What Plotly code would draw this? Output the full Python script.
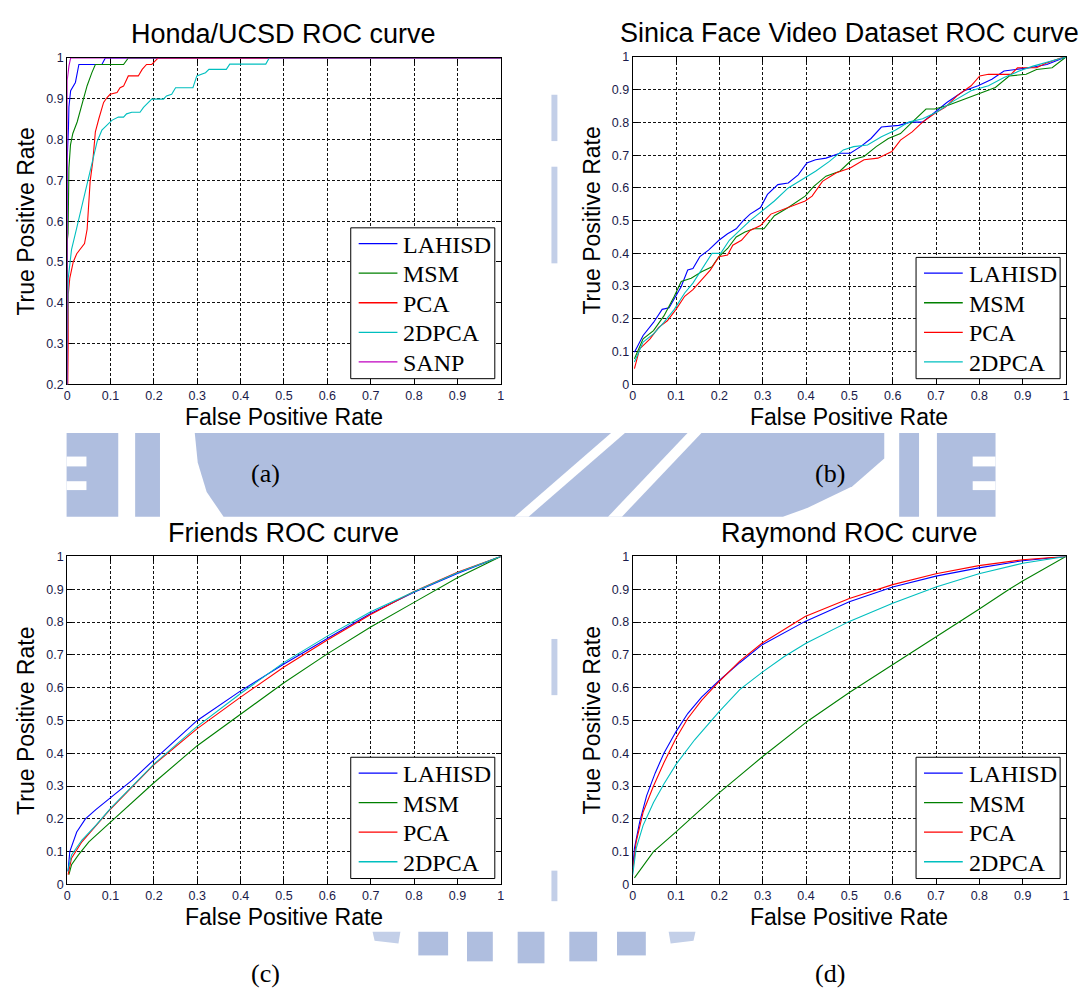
import plotly.graph_objects as go

W, H = 1083, 992

# ---------------- data ----------------
series_names = ["LAHISD", "MSM", "PCA", "2DPCA", "SANP"]
panel_titles = ["Honda/UCSD ROC curve", "Sinica Face Video Dataset ROC curve",
                "Friends ROC curve", "Raymond ROC curve"]
panel_labels = ["(a)", "(b)", "(c)", "(d)"]
x_title = "False Positive Rate"
y_title = "True Positive Rate"
tick_vals = [0, 0.1, 0.2, 0.3, 0.4, 0.5, 0.6, 0.7, 0.8, 0.9, 1]

# (a) Honda/UCSD
h_lahisd_x = [0, 0, 0.003, 0.004, 0.008, 0.013, 0.019, 0.027, 0.080, 0.088, 1.0]
h_lahisd_y = [0, 0.75, 0.83, 0.88, 0.92, 0.93, 0.94, 0.984, 0.984, 1.0, 1.0]
h_msm_x = [0, 0, 0.002, 0.0023, 0.004, 0.0076, 0.013, 0.023, 0.034, 0.046, 0.057, 0.065, 0.130, 0.141, 1.0]
h_msm_y = [0, 0.55, 0.57, 0.674, 0.73, 0.787, 0.815, 0.843, 0.883, 0.932, 0.964, 0.984, 0.984, 1.0, 1.0]
h_pca_x = [0, 0, 0.0015, 0.0024, 0.0025, 0.006, 0.014, 0.022, 0.034, 0.040, 0.046, 0.053, 0.059, 0.065,
           0.073, 0.084, 0.092, 0.099, 0.115, 0.122, 0.130, 0.141, 0.164, 0.173, 0.183, 0.195, 0.210, 1.0]
h_pca_y = [0, 0.2, 0.22, 0.31, 0.42, 0.46, 0.50, 0.52, 0.535, 0.545, 0.58, 0.698, 0.746, 0.819,
           0.851, 0.891, 0.903, 0.911, 0.915, 0.927, 0.931, 0.956, 0.956, 0.972, 0.984, 0.984, 1.0, 1.0]
h_2dpca_x = [0, 0, 0.0024, 0.010, 0.019, 0.030, 0.042, 0.057, 0.069, 0.080, 0.092, 0.103, 0.118, 0.130,
             0.137, 0.149, 0.168, 0.176, 0.195, 0.222, 0.229, 0.241, 0.250, 0.290, 0.299, 0.319, 0.327,
             0.367, 0.375, 0.458, 0.466, 1.0]
h_2dpca_y = [0, 0.24, 0.46, 0.53, 0.57, 0.62, 0.674, 0.738, 0.795, 0.823, 0.835, 0.847, 0.855, 0.855,
             0.863, 0.867, 0.867, 0.879, 0.899, 0.899, 0.907, 0.911, 0.927, 0.927, 0.956, 0.964, 0.972,
             0.972, 0.985, 0.985, 1.0, 1.0]
h_sanp_x = [0, 0, 0.004, 0.008, 1.0]
h_sanp_y = [0, 0.945, 0.98, 1.0, 1.0]

# (b) Sinica Face Video Dataset
s_lahisd_x = [0.004, 0.024, 0.048, 0.068, 0.084, 0.100, 0.112, 0.127, 0.139, 0.155, 0.175, 0.199, 0.219,
              0.239, 0.255, 0.271, 0.295, 0.311, 0.335, 0.359, 0.382, 0.402, 0.422, 0.446, 0.478, 0.502,
              0.526, 0.550, 0.574, 0.614, 0.641, 0.669, 0.693, 0.725, 0.765, 0.797, 0.829, 0.857, 0.884,
              0.916, 0.956, 1.0]
s_lahisd_y = [0.098, 0.149, 0.189, 0.229, 0.234, 0.269, 0.299, 0.349, 0.354, 0.390, 0.410, 0.440, 0.460,
              0.475, 0.500, 0.520, 0.540, 0.580, 0.610, 0.615, 0.640, 0.676, 0.686, 0.691, 0.706, 0.706,
              0.726, 0.751, 0.786, 0.791, 0.801, 0.801, 0.826, 0.861, 0.897, 0.912, 0.932, 0.957, 0.962,
              0.967, 0.977, 1.0]
s_msm_x = [0.004, 0.024, 0.048, 0.072, 0.096, 0.112, 0.135, 0.159, 0.183, 0.199, 0.219, 0.239, 0.259,
           0.279, 0.303, 0.327, 0.359, 0.398, 0.418, 0.446, 0.478, 0.506, 0.534, 0.562, 0.590, 0.618,
           0.645, 0.677, 0.697, 0.725, 0.765, 0.805, 0.837, 0.869, 0.908, 0.932, 0.968, 1.0]
s_msm_y = [0.078, 0.139, 0.164, 0.209, 0.269, 0.314, 0.324, 0.344, 0.359, 0.390, 0.415, 0.450, 0.465,
           0.475, 0.475, 0.515, 0.540, 0.575, 0.605, 0.636, 0.651, 0.686, 0.696, 0.726, 0.751, 0.766,
           0.801, 0.841, 0.841, 0.851, 0.871, 0.892, 0.907, 0.942, 0.947, 0.962, 0.967, 1.0]
s_pca_x = [0.004, 0.016, 0.040, 0.060, 0.080, 0.100, 0.120, 0.139, 0.159, 0.179, 0.199, 0.219, 0.231,
           0.251, 0.271, 0.295, 0.319, 0.359, 0.398, 0.414, 0.438, 0.470, 0.502, 0.534, 0.566, 0.598,
           0.618, 0.645, 0.669, 0.701, 0.721, 0.749, 0.781, 0.801, 0.821, 0.873, 0.888, 0.932, 0.956,
           0.988, 1.0]
s_pca_y = [0.048, 0.108, 0.139, 0.174, 0.194, 0.229, 0.269, 0.289, 0.319, 0.349, 0.390, 0.395, 0.425,
           0.440, 0.470, 0.485, 0.520, 0.540, 0.560, 0.575, 0.620, 0.646, 0.661, 0.686, 0.691, 0.711,
           0.746, 0.771, 0.801, 0.831, 0.846, 0.882, 0.912, 0.942, 0.947, 0.947, 0.967, 0.967, 0.982,
           0.997, 1.0]
s_2dpca_x = [0.004, 0.024, 0.048, 0.072, 0.096, 0.120, 0.139, 0.159, 0.183, 0.203, 0.223, 0.247, 0.271,
             0.299, 0.327, 0.359, 0.390, 0.422, 0.454, 0.486, 0.510, 0.542, 0.574, 0.606, 0.637, 0.669,
             0.701, 0.741, 0.781, 0.821, 0.857, 0.892, 0.924, 0.964, 1.0]
s_2dpca_y = [0.068, 0.129, 0.154, 0.189, 0.229, 0.279, 0.309, 0.349, 0.400, 0.400, 0.440, 0.470, 0.500,
             0.530, 0.560, 0.600, 0.625, 0.651, 0.681, 0.716, 0.726, 0.731, 0.756, 0.776, 0.801, 0.811,
             0.831, 0.866, 0.897, 0.912, 0.937, 0.957, 0.972, 0.987, 1.0]

# (c) Friends
f_lahisd_x = [0.002, 0.006, 0.022, 0.042, 0.066, 0.1, 0.15, 0.2, 0.25, 0.3, 0.4, 0.5, 0.6, 0.7, 0.8, 0.9, 1.0]
f_lahisd_y = [0.04, 0.10, 0.16, 0.20, 0.228, 0.265, 0.318, 0.38, 0.44, 0.50, 0.59, 0.672, 0.75, 0.826, 0.891, 0.948, 1.0]
f_msm_x = [0.004, 0.01, 0.026, 0.05, 0.1, 0.2, 0.3, 0.4, 0.5, 0.6, 0.7, 0.8, 0.9, 1.0]
f_msm_y = [0.03, 0.06, 0.09, 0.13, 0.19, 0.31, 0.423, 0.52, 0.615, 0.703, 0.785, 0.86, 0.935, 1.0]
f_pca_x = [0.002, 0.01, 0.034, 0.066, 0.1, 0.2, 0.3, 0.4, 0.5, 0.6, 0.7, 0.8, 0.9, 1.0]
f_pca_y = [0.03, 0.08, 0.13, 0.18, 0.23, 0.365, 0.475, 0.571, 0.663, 0.745, 0.823, 0.893, 0.952, 1.0]
f_2dpca_x = [0.001, 0.01, 0.034, 0.066, 0.1, 0.2, 0.3, 0.4, 0.5, 0.6, 0.7, 0.8, 0.9, 1.0]
f_2dpca_y = [0.04, 0.09, 0.135, 0.18, 0.232, 0.367, 0.482, 0.582, 0.677, 0.757, 0.831, 0.892, 0.95, 1.0]

# (d) Raymond
r_lahisd_x = [0, 0.004, 0.016, 0.032, 0.052, 0.072, 0.1, 0.127, 0.159, 0.199, 0.247, 0.299, 0.398, 0.5,
              0.6, 0.7, 0.799, 0.9, 1.0]
r_lahisd_y = [0.05, 0.11, 0.19, 0.27, 0.34, 0.40, 0.466, 0.521, 0.571, 0.621, 0.676, 0.731, 0.802, 0.862,
              0.907, 0.94, 0.965, 0.987, 1.0]
r_msm_x = [0.004, 0.048, 0.1, 0.2, 0.3, 0.406, 0.5, 0.6, 0.637, 0.7, 0.8, 0.869, 0.9, 1.0]
r_msm_y = [0.02, 0.10, 0.16, 0.28, 0.39, 0.50, 0.585, 0.67, 0.70, 0.755, 0.84, 0.90, 0.925, 1.0]
r_pca_x = [0, 0.008, 0.024, 0.048, 0.072, 0.1, 0.127, 0.159, 0.199, 0.247, 0.299, 0.398, 0.5, 0.6, 0.7,
           0.799, 0.9, 1.0]
r_pca_y = [0.04, 0.13, 0.22, 0.30, 0.371, 0.446, 0.506, 0.561, 0.618, 0.681, 0.736, 0.817, 0.872, 0.914,
           0.947, 0.972, 0.99, 1.0]
r_2dpca_x = [0, 0.008, 0.024, 0.048, 0.072, 0.1, 0.143, 0.199, 0.247, 0.3, 0.35, 0.4, 0.5, 0.6, 0.7,
             0.799, 0.9, 1.0]
r_2dpca_y = [0.03, 0.11, 0.18, 0.25, 0.306, 0.366, 0.441, 0.526, 0.594, 0.648, 0.695, 0.735, 0.802, 0.857,
             0.907, 0.947, 0.979, 1.0]

panels = [
    [(h_lahisd_x, h_lahisd_y), (h_msm_x, h_msm_y), (h_pca_x, h_pca_y), (h_2dpca_x, h_2dpca_y), (h_sanp_x, h_sanp_y)],
    [(s_lahisd_x, s_lahisd_y), (s_msm_x, s_msm_y), (s_pca_x, s_pca_y), (s_2dpca_x, s_2dpca_y)],
    [(f_lahisd_x, f_lahisd_y), (f_msm_x, f_msm_y), (f_pca_x, f_pca_y), (f_2dpca_x, f_2dpca_y)],
    [(r_lahisd_x, r_lahisd_y), (r_msm_x, r_msm_y), (r_pca_x, r_pca_y), (r_2dpca_x, r_2dpca_y)],
]
y_min = [0.2, 0, 0, 0]

# ---------------- styles / layout ----------------
colors = ["#0000FF", "#008000", "#FF0000", "#00BFBF", "#BF00BF"]
SANS = "Liberation Sans, Arial, sans-serif"
SERIF = "Liberation Serif, Times New Roman, serif"
WM = "#afbedf"
WM2 = "#c3cfe8"


def px(x):
    return x / W


def py(y):
    return 1 - y / H


# pixel boxes of plot areas: (left, right, top, bottom)
boxes = [(64.6, 501.0, 51.7, 382.7), (633.8, 1069.9, 50.7, 382.7),
         (64.6, 501.0, 557.3, 890.0), (633.8, 1069.9, 557.3, 890.0)]
# legend boxes (left, right, top, bottom) in pixels
leg_boxes = [(350, 495, 224, 377), (919, 1064, 254, 377),
             (350, 495, 761, 884), (919, 1064, 761, 884)]

fig = go.Figure()

for i, series in enumerate(panels):
    ax = "" if i == 0 else str(i + 1)
    for j, (xs, ys) in enumerate(series):
        fig.add_trace(go.Scatter(
            x=xs, y=ys, mode="lines", name=series_names[j],
            line=dict(color=colors[j], width=1.1),
            xaxis="x" + ax, yaxis="y" + ax, showlegend=False,
            hoverinfo="skip"))

layout = dict(
    width=W, height=H, autosize=False,
    margin=dict(l=0, r=0, t=0, b=0),
    paper_bgcolor="white", plot_bgcolor="white",
    showlegend=False,
)

annotations = []
shapes = []


def rect(x0, x1, y0, y1, color, layer="below", line=None):
    return dict(type="rect", xref="paper", yref="paper", layer=layer,
                x0=px(x0), x1=px(x1), y0=py(y1), y1=py(y0),
                fillcolor=color, line=line or dict(width=0))


def poly(pts, color):
    d = "M " + " L ".join(f"{px(x):.5f},{py(y):.5f}" for x, y in pts) + " Z"
    return dict(type="path", xref="paper", yref="paper", layer="below", path=d,
                fillcolor=color, line=dict(width=0))


# faint watermark logo pieces visible between the panels
shapes += [
    rect(64, 116, 432, 517, WM),
    rect(64, 84, 456, 466, "white"),
    rect(64, 84, 481, 490, "white"),
    rect(133, 158, 432, 517, WM),
    poly([(193, 432), (887, 432), (887, 458), (855, 486), (810, 508), (785, 517), (222, 517),
          (205, 492), (196, 462)], WM),
    poly([(612, 432), (626, 432), (529, 517), (515, 517)], "white"),
    poly([(689, 432), (703, 432), (623, 517), (609, 517)], "white"),
    rect(902, 922, 432, 517, WM),
    rect(940, 999, 432, 517, WM),
    rect(976, 999, 456, 466, "white"),
    rect(976, 999, 481, 490, "white"),
    rect(552, 558, 89, 136, WM2),
    rect(552, 558, 162, 260, WM2),
    rect(552, 558, 641, 698, WM2),
    rect(552, 558, 876, 907, WM2),
    poly([(372, 938), (400, 938), (398, 950), (374, 947)], WM2),
    rect(418, 448, 938, 962, WM),
    rect(467, 493, 938, 968, WM),
    rect(518, 545, 938, 970, WM),
    rect(570, 598, 938, 968, WM),
    rect(618, 647, 938, 962, WM),
    poly([(670, 938), (697, 938), (695, 947), (672, 950)], WM2),
]

for i, (l, r, t, b) in enumerate(boxes):
    ax = "" if i == 0 else str(i + 1)
    common = dict(
        showgrid=True, gridcolor="#111111", griddash="3px,2px", gridwidth=1,
        showline=True, linecolor="black", linewidth=1, mirror="ticks",
        ticks="inside", ticklen=5, tickcolor="black", tickwidth=1,
        zeroline=False, layer="below traces", fixedrange=True,
        tickfont=dict(family=SANS, size=12.5, color="#1a1a4a"),
    )
    layout["xaxis" + ax] = dict(common, domain=[px(l), px(r)], range=[0, 1],
                                tickvals=tick_vals, anchor="y" + ax)
    layout["yaxis" + ax] = dict(common, domain=[py(b), py(t)], range=[y_min[i], 1],
                                tickvals=[v for v in tick_vals if v >= y_min[i] - 1e-9],
                                anchor="x" + ax)
    cx = (l + r) / 2
    annotations.append(dict(text=panel_titles[i], x=px(cx), y=py(t - 24), xref="paper", yref="paper",
                            showarrow=False, font=dict(family=SANS, size=27, color="black"),
                            xanchor="center", yanchor="middle"))
    annotations.append(dict(text=x_title, x=px(cx), y=py(b + 33), xref="paper", yref="paper",
                            showarrow=False, font=dict(family=SANS, size=23, color="black"),
                            xanchor="center", yanchor="middle"))
    annotations.append(dict(text=y_title, x=px(l - 41), y=py((t + b) / 2), xref="paper", yref="paper",
                            showarrow=False, textangle=-90,
                            font=dict(family=SANS, size=23, color="black"),
                            xanchor="center", yanchor="middle"))
    annotations.append(dict(text=panel_labels[i], x=px(cx - 19), y=py(b + 90), xref="paper", yref="paper",
                            showarrow=False, font=dict(family=SERIF, size=26, color="black"),
                            xanchor="center", yanchor="middle"))

    # legend box drawn above the traces
    ll, lr, lt, lb = leg_boxes[i]
    shapes.append(rect(ll, lr, lt, lb, "white", layer="above", line=dict(color="black", width=1)))
    n = len(panels[i])
    row_h = 30.0
    first = lb - 17 - (n - 1) * row_h
    for j in range(n):
        yc = first + j * row_h
        shapes.append(dict(type="line", xref="paper", yref="paper", layer="above",
                           x0=px(ll + 8), x1=px(ll + 47), y0=py(yc), y1=py(yc),
                           line=dict(color=colors[j], width=1.3)))
        annotations.append(dict(text=series_names[j], x=px(ll + 51), y=py(yc + 1),
                                xref="paper", yref="paper", showarrow=False,
                                xanchor="left", yanchor="middle",
                                font=dict(family=SERIF, size=24, color="black")))

layout["annotations"] = annotations
layout["shapes"] = shapes
fig.update_layout(**layout)

fig.write_html("out.html")
